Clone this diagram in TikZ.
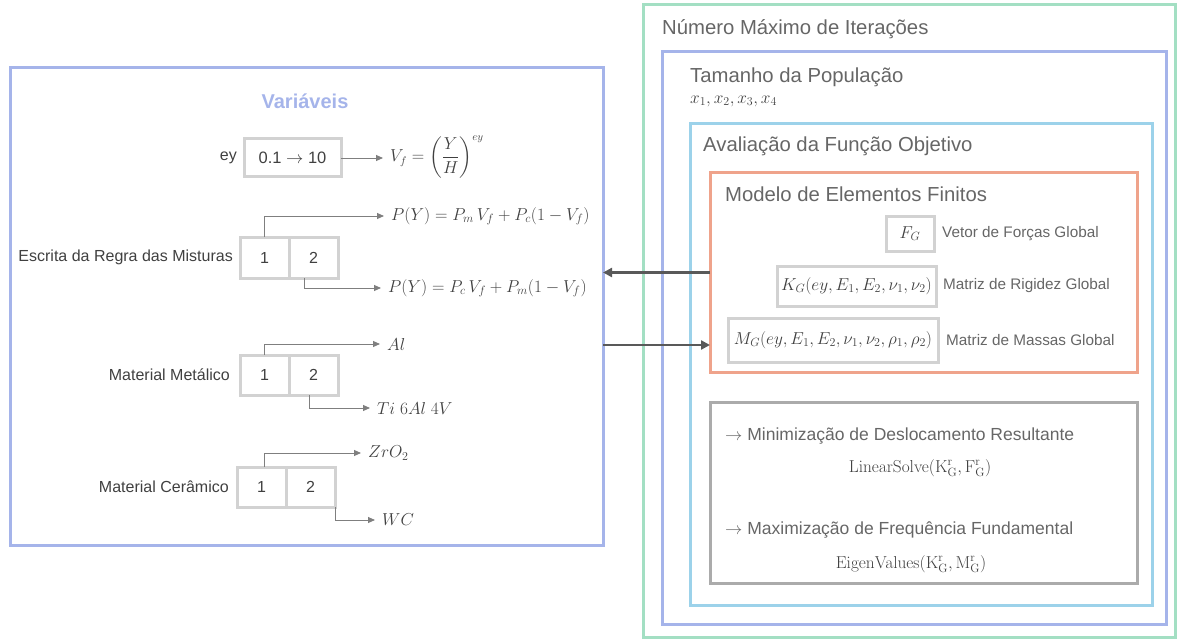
\documentclass[tikz,border=0pt]{standalone}
\usepackage{amsmath}
\usepackage[no-math]{fontspec}
\setmainfont{Liberation Sans}
\usetikzlibrary{arrows.meta,positioning}
\definecolor{FrameBlue}{HTML}{A5B4EA}
\definecolor{FrameGreen}{HTML}{A3DFC3}
\definecolor{FrameSky}{HTML}{9CD2EA}
\definecolor{FrameSalmon}{HTML}{EFA38B}
\definecolor{FrameGrey}{HTML}{ABABAB}
\definecolor{CellGrey}{HTML}{D2D2D2}
\definecolor{TextGrey}{HTML}{666666}
\definecolor{LabelInk}{HTML}{404040}
\definecolor{LinkGrey}{HTML}{7F7F7F}
\definecolor{ArrowInk}{HTML}{595959}

\begin{document}
\begin{tikzpicture}[x=1pt,y=-1pt]
\tikzset{
  frame/.style={draw,line width=3pt,inner sep=0pt,outer sep=0pt},
  title/.style={font=\fontsize{20.3}{24}\selectfont,text=TextGrey,anchor=west,inner sep=2pt},
  tag/.style={font=\fontsize{16}{19}\selectfont,text=LabelInk,inner sep=2pt},
  note/.style={font=\fontsize{15.3}{18}\selectfont,text=TextGrey,inner sep=2pt},
  cell/.style={draw=CellGrey,line width=3pt,outer sep=0pt,minimum width=49pt,minimum height=41pt,font=\fontsize{16}{19}\selectfont,text=LabelInk},
  mbox/.style={draw=CellGrey,line width=3pt,outer sep=0pt,inner sep=2pt,font=\fontsize{17.5}{20}\selectfont,text=LabelInk},
  formula/.style={anchor=west,inner ysep=3pt,inner xsep=7pt,font=\fontsize{17.5}{20}\selectfont,text=LabelInk},
  link/.style={draw=LinkGrey,line width=0.9pt,-{Triangle[length=7pt,width=6pt]}},
  flow/.style={draw=ArrowInk,line width=2.5pt,-{Triangle[length=9pt,width=9pt]}}
}
\useasboundingbox (0,0) rectangle (1177,639);

% variables panel
\node[frame,draw=FrameBlue,minimum width=593pt,minimum height=477pt] (vars) at (306.5,306.5) {};
\node[font=\bfseries\fontsize{20}{24}\selectfont,text=FrameBlue] (hVars) at (305,101) {Variáveis};

\node[mbox,minimum width=97pt,minimum height=38pt,font=\fontsize{16.5}{19}\selectfont] (eyRange) at (292.5,158) {0.1 $\rightarrow$ 10};
\node[tag,left=5pt of eyRange] (eyTxt) {ey};
\node[formula,font=\fontsize{16}{19}\selectfont] (vf) at (383,157) {$V_f = \left(\dfrac{Y}{H}\right)^{ey}$};
\draw[link] (eyRange.east) -- (eyRange.east -| vf.west);

\node[cell] (mx1) at (264.5,257.5) {1};
\node[cell,right=0pt of mx1] (mx2) {2};
\node[tag,left=5pt of mx1] (mxTxt) {Escrita da Regra das Misturas};
\node[formula] (ruleA) at (384,216) {$P(Y) = P_m\,V_f + P_c(1-V_f)$};
\node[formula] (ruleB) at (381,288) {$P(Y) = P_c\,V_f + P_m(1-V_f)$};
\draw[link] (mx1.north) |- (ruleA.west);
\draw[link] ([xshift=-9pt]mx2.south) |- (ruleB.west);

\node[cell,minimum height=40pt] (mt1) at (264.5,375) {1};
\node[cell,minimum height=40pt,right=0pt of mt1] (mt2) {2};
\node[tag,left=8pt of mt1] (mtTxt) {Material Metálico};
\node[formula] (al) at (380,344) {$Al$};
\node[formula] (ti) at (370,408) {$Ti\ 6Al\ 4V$};
\draw[link] (mt1.north) |- (al.west);
\draw[link] ([xshift=-4pt]mt2.south) |- (ti.west);

\node[cell,minimum height=40pt] (ce1) at (261.5,487) {1};
\node[cell,minimum height=40pt,right=0pt of ce1] (ce2) {2};
\node[tag,left=6pt of ce1] (ceTxt) {Material Cerâmico};
\node[formula] (zr) at (361,453) {$ZrO_2$};
\node[formula] (wc) at (375,520) {$WC$};
\draw[link] ([xshift=3pt]ce1.north) |- (zr.west);
\draw[link] (ce2.south east) |- (wc.west);

% nested loops
\node[frame,draw=FrameGreen,minimum width=532pt,minimum height=632pt] (iter) at (909,321) {};
\node[frame,draw=FrameBlue,minimum width=504pt,minimum height=572pt] (pop) at (914,338) {};
\node[frame,draw=FrameSky,minimum width=462pt,minimum height=481pt] (obj) at (921,364.5) {};
\node[frame,draw=FrameSalmon,minimum width=427pt,minimum height=199pt] (fem) at (923.5,272.5) {};
\node[frame,draw=FrameGrey,minimum width=427pt,minimum height=181pt] (goal) at (923.5,492.5) {};

\node[title] (tIter) at (660,29) {Número Máximo de Iterações};
\node[title] (tPop) at (688,77) {Tamanho da População};
\node[formula,inner xsep=2pt,font=\fontsize{16.5}{19}\selectfont] (xs) at (688,101) {$x_1, x_2, x_3, x_4$};
\node[title] (tObj) at (701,146) {Avaliação da Função Objetivo};
\node[title] (tFem) at (723,194) {Modelo de Elementos Finitos};

\node[mbox,minimum width=48pt,minimum height=35pt] (fg) at (910,233.5) {$F_G$};
\node[note,right=6pt of fg] (fgTxt) {Vetor de Forças Global};
\node[mbox,minimum width=159pt,minimum height=40pt] (kg) at (856.5,286) {$K_G(ey,E_1,E_2,\nu_1,\nu_2)$};
\node[note,right=5pt of kg] (kgTxt) {Matriz de Rigidez Global};
\node[mbox,minimum width=210pt,minimum height=44pt] (mg) at (833,340) {$M_G(ey,E_1,E_2,\nu_1,\nu_2,\rho_1,\rho_2)$};
\node[note,right=6pt of mg] (mgTxt) {Matriz de Massas Global};

\node[title,font=\fontsize{17.5}{21}\selectfont] (minTxt) at (723,436) {$\rightarrow$ Minimização de Deslocamento Resultante};
\node[formula,anchor=center] (solve) at (920,468) {$\mathrm{LinearSolve}(\mathrm{K}^{\mathrm{r}}_{\mathrm{G}}, \mathrm{F}^{\mathrm{r}}_{\mathrm{G}})$};
\node[title,font=\fontsize{17.5}{21}\selectfont] (maxTxt) at (723,530) {$\rightarrow$ Maximização de Frequência Fundamental};
\node[formula,anchor=center] (eig) at (911,564) {$\mathrm{EigenValues}(\mathrm{K}^{\mathrm{r}}_{\mathrm{G}}, \mathrm{M}^{\mathrm{r}}_{\mathrm{G}})$};

% exchange between panels
\draw[flow] (fem.west) -- (fem.west -| vars.east);
\coordinate (massIn) at ([yshift=-38.5pt]vars.east);
\draw[flow] (massIn) -- (massIn -| fem.west);
\end{tikzpicture}
\end{document}
